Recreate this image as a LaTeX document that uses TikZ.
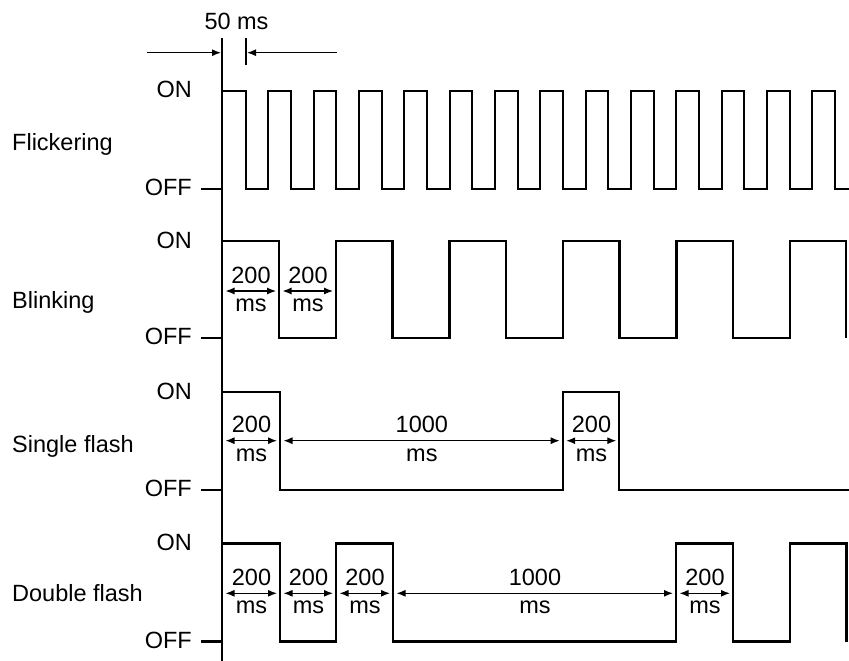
\documentclass[tikz,border=0pt]{standalone}
\usepackage{fontspec}
\setmainfont{Liberation Sans}
\usetikzlibrary{arrows.meta}
\begin{document}
\begin{tikzpicture}[x=1pt,y=-1pt,
  txt/.style={inner sep=0pt,font=\fontsize{23.5}{27}\selectfont},
  wave/.style={line width=2.2pt,line join=miter,line cap=butt},
  axisline/.style={line width=2pt},
  dim/.style={line width=1.2pt,{Latex[length=9pt,width=7pt]}-{Latex[length=9pt,width=7pt]}},
  dimr/.style={line width=1.2pt,-{Latex[length=9pt,width=7pt]}},
  tick/.style={line width=1.2pt}]
\useasboundingbox (0,0) rectangle (849,661);
% axis
\coordinate (axtop) at (222,38);
\coordinate (axbot) at (222,661);
\draw[axisline] (axtop) -- (axbot);
% 50 ms annotation
\node[txt,anchor=base] (t50) at (236.5,29.3) {50 ms};
\coordinate (tk1) at (246,38);
\coordinate (tk2) at (246,65);
\draw[tick] (tk1) -- (tk2);
\coordinate (a1s) at (147,52.7);
\coordinate (a1e) at (221,52.7);
\coordinate (a2s) at (337,52.7);
\coordinate (a2e) at (247,52.7);
\draw[dimr] (a1s) -- (a1e);
\draw[dimr] (a2s) -- (a2e);
% level labels
\foreach \on/\off/\n in {91/189/a,241/338/b,392/490/c,543.5/641.5/d}{
  \node[txt,anchor=base east] (on\n) at (192,\on+7) {ON};
  \node[txt,anchor=base east] (off\n) at (192,\off+6.7) {OFF};
}
\node[txt,anchor=base west] (lflick) at (12,150.7) {Flickering};
\node[txt,anchor=base west] (lblink) at (12,308.3) {Blinking};
\node[txt,anchor=base west] (lsingle) at (12,452.3) {Single flash};
\node[txt,anchor=base west] (ldouble) at (12,601.7) {Double flash};
% flickering
\draw[wave] (201,189) -- (222,189) -- (222,91)
  \foreach \k in {0,...,12}{ -- ({245.7+45.33*\k},91) -- ({245.7+45.33*\k},189) -- ({268.3+45.33*\k},189) -- ({268.3+45.33*\k},91) }
  -- (835,91) -- (835,189) -- (849,189);
% blinking
\draw[wave] (201,338) -- (222,338) -- (222,241)
  \foreach \k in {0,...,4}{ -- ({279+113.5*\k},241) -- ({279+113.5*\k},338) -- ({336+113.5*\k},338) -- ({336+113.5*\k},241) }
  -- (846,241) -- (846,338);
% single flash
\draw[wave] (201,490) -- (222,490) -- (222,392) -- (280,392) -- (280,490) -- (562.7,490) -- (562.7,392) -- (619.3,392) -- (619.3,490) -- (849,490);
% double flash
\draw[wave] (201,641.5) -- (222,641.5) -- (222,543.5) -- (280,543.5) -- (280,641.5) -- (336,641.5) -- (336,543.5) -- (393,543.5) -- (393,641.5) -- (676,641.5) -- (676,543.5) -- (733,543.5) -- (733,641.5) -- (790,641.5) -- (790,543.5) -- (846.5,543.5) -- (846.5,641.5);
% dimension arrows with labels
\foreach \xa/\xb/\y/\v/\n in {222/279/291/200/b1, 279/336/291/200/b2,
   222/280/440.7/200/c1, 280/562.7/440.7/1000/c2, 562.7/619.3/440.7/200/c3,
   222/280/593.3/200/d1, 280/336/593.3/200/d2, 336/393/593.3/200/d3, 393/676/593.3/1000/d4, 676/733/593.3/200/d5}{
  \coordinate (s\n) at (\xa+3.5,\y);
  \coordinate (e\n) at (\xb-3,\y);
  \draw[dim] (s\n) -- (e\n);
  \node[txt,anchor=base] (v\n) at ({(\xa+\xb)/2+0.5},\y-8) {\v};
  \node[txt,anchor=base] (m\n) at ({(\xa+\xb)/2+0.5},\y+20.5) {ms};
}
\end{tikzpicture}
\end{document}
